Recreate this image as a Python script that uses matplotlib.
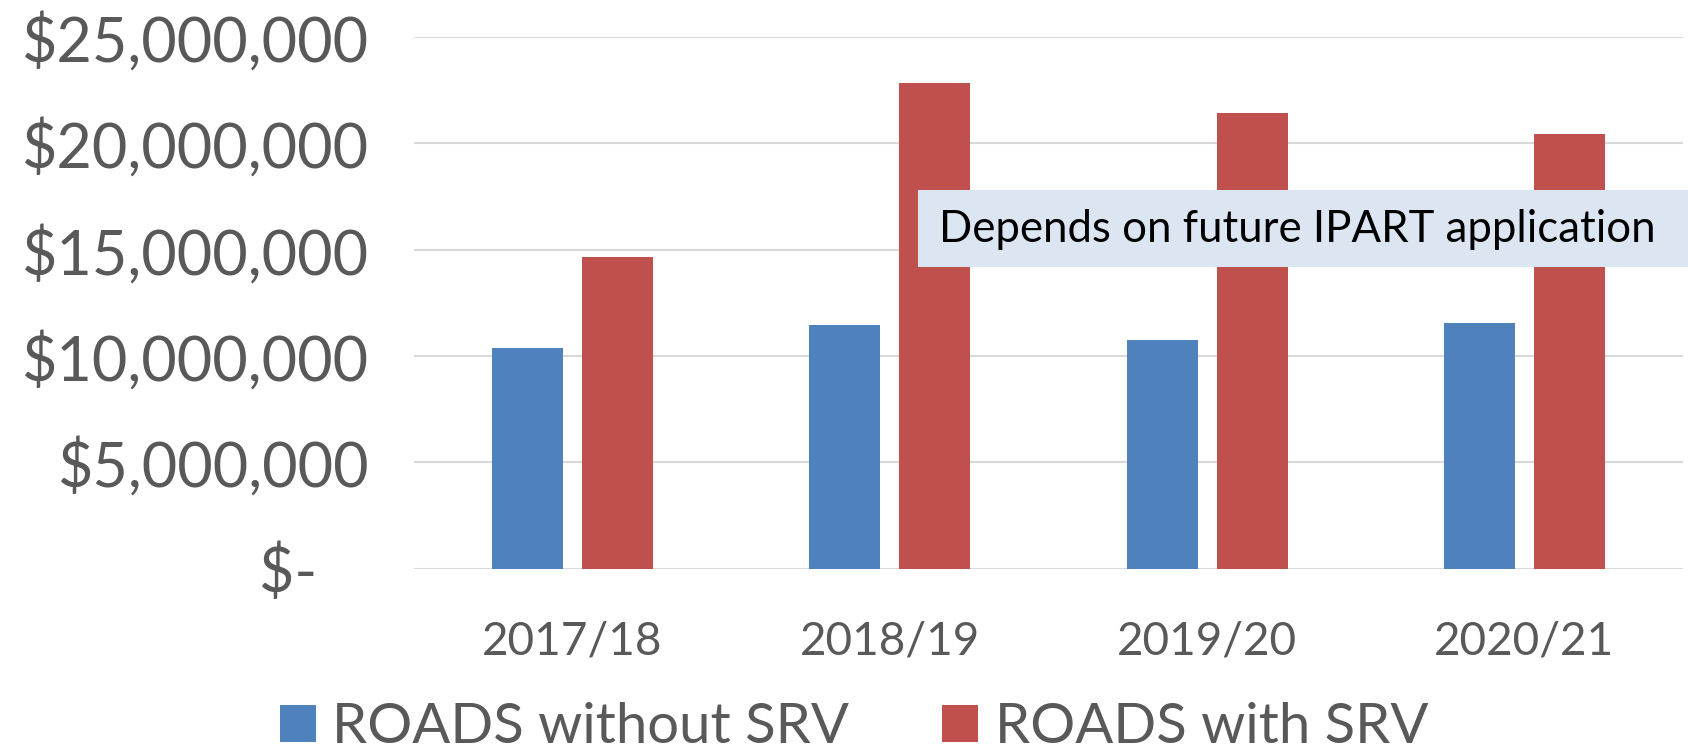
import matplotlib.pyplot as plt
import numpy as np
from matplotlib.patches import Rectangle

plt.rcParams['font.family'] = ['Lato', 'DejaVu Sans']

years = ['2017/18', '2018/19', '2019/20', '2020/21']
without_srv = [10370000, 11470000, 10750000, 11550000]
with_srv = [14650000, 22840000, 21450000, 20430000]
ytick_vals = [0, 5000000, 10000000, 15000000, 20000000, 25000000]
ytick_labels = ['$-   \u200a', '$5,000,000', '$10,000,000', '$15,000,000', '$20,000,000', '$25,000,000']
note = 'Depends on future IPART application'

blue = '#4F81BD'
red = '#C0504D'
grey_txt = '#595959'

fig = plt.figure(figsize=(16.88, 7.55), dpi=100)
ax = fig.add_axes([414 / 1688, 1 - 568.7 / 755, 1269 / 1688, (568.7 - 37.1) / 755])

x = np.arange(len(years))
w = 0.224
off = 0.142
ax.bar(x - off, without_srv, w, color=blue, label='ROADS without SRV', zorder=3)
ax.bar(x + off, with_srv, w, color=red, label='ROADS with SRV', zorder=3)

ax.set_xlim(-0.5, len(years) - 0.5)
ax.set_ylim(0, 25000000)
ax.set_yticks(ytick_vals)
ax.set_yticklabels(ytick_labels)
ax.set_xticks(x)
ax.set_xticklabels(years)
ax.yaxis.grid(True, color='#D9D9D9', linewidth=1.5, zorder=0)
ax.tick_params(axis='both', length=0, colors=grey_txt)
ax.tick_params(axis='y', labelsize=44, pad=33)
ax.tick_params(axis='x', labelsize=33, pad=37)
for s in ax.spines.values():
    s.set_visible(False)

# note box
fig.patches.append(Rectangle((918 / 1688, 1 - 267.5 / 755), (1688 - 918) / 1688, 77.3 / 755,
                             transform=fig.transFigure, facecolor='#DCE6F2', edgecolor='none', zorder=5))
fig.text(939 / 1688, 1 - 229 / 755, note, fontsize=31.5, color='black', va='center', ha='left', zorder=6)

leg = fig.legend(loc='center', bbox_to_anchor=(0.506, 0.036), ncol=2, frameon=False,
                 fontsize=40.5, handlelength=0.63, handleheight=0.63, handletextpad=0.3,
                 columnspacing=1.65, borderpad=0)
for t in leg.get_texts():
    t.set_color(grey_txt)

fig.savefig('out.png', dpi=100)
